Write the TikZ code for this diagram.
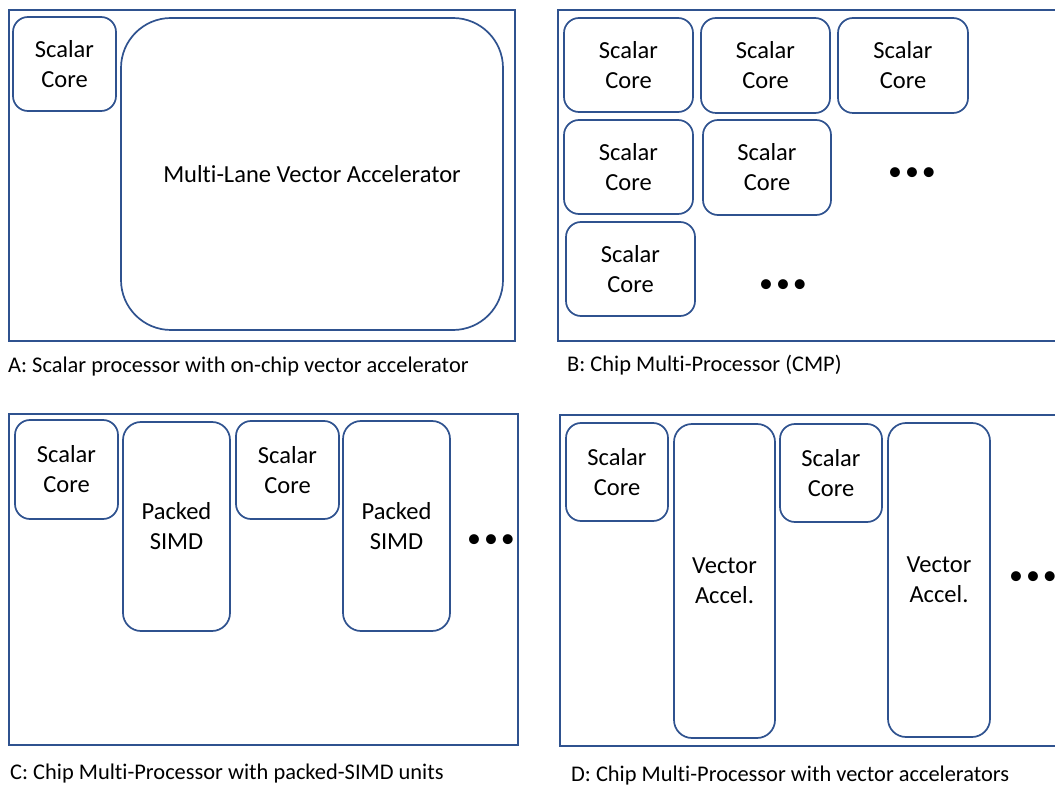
\documentclass[tikz,border=0pt]{standalone}
\usepackage{fontspec}
\setmainfont[Ligatures=NoCommon]{Carlito}
\definecolor{edgeblue}{HTML}{2F528F}
\tikzset{
  chip/.style={draw=edgeblue, line width=1.7pt, rectangle, inner sep=0pt},
  unit/.style={draw=edgeblue, line width=1.7pt, rectangle, rounded corners=15pt,
    inner sep=0pt, align=center, font=\fontsize{24.5}{30}\selectfont},
  bigunit/.style={unit, rounded corners=50pt},
  tallunit/.style={unit, rounded corners=18pt},
  caption/.style={anchor=west, inner sep=0pt, font=\fontsize{22.4}{26}\selectfont},
  more/.style={inner sep=0pt, font=\fontsize{28}{30}\selectfont}
}
\newcommand{\moredots}{\textbullet\kern3pt\textbullet\kern3pt\textbullet}
\begin{document}
\begin{tikzpicture}[x=1pt, y=-1pt]
  \useasboundingbox (0,0) rectangle (1055,786);
  \clip (0,0) rectangle (1055,786);
  \fill[white] (0,0) rectangle (1055,786);

  % A: scalar core with an on-chip vector accelerator
  \node[chip, minimum width=506pt, minimum height=331pt] (fa) at (262,175.5) {};
  \node[unit, minimum width=103pt, minimum height=94pt] (a1) at (64.5,64) {Scalar\\Core};
  \node[bigunit, minimum width=382pt, minimum height=312pt] (a2) at (312,174) {Multi-Lane Vector Accelerator};
  \node[caption] (ca) at (8,367) {A: Scalar processor with on-chip vector accelerator};

  % B: chip multi-processor
  \node[chip, minimum width=522pt, minimum height=331pt] (fb) at (819,175.5) {};
  \node[unit, minimum width=129pt, minimum height=94pt] (b1) at (628.5,65) {Scalar\\Core};
  \node[unit, minimum width=129pt, minimum height=95pt] (b2) at (765.5,65.5) {Scalar\\Core};
  \node[unit, minimum width=130pt, minimum height=95pt] (b3) at (903,65.5) {Scalar\\Core};
  \node[unit, minimum width=129pt, minimum height=94pt] (b4) at (628.5,167) {Scalar\\Core};
  \node[unit, minimum width=128pt, minimum height=95pt] (b5) at (767,167.5) {Scalar\\Core};
  \node[unit, minimum width=129pt, minimum height=94pt] (b6) at (630.5,269) {Scalar\\Core};
  \node[more] (bd1) at (912,174) {\moredots};
  \node[more] (bd2) at (783,286) {\moredots};
  \node[caption] (cb) at (567,365) {B: Chip Multi-Processor (CMP)};

  % C: chip multi-processor with packed-SIMD units
  \node[chip, minimum width=509pt, minimum height=331pt] (fc) at (263.5,579.5) {};
  \node[unit, minimum width=103pt, minimum height=99pt] (c1) at (66.5,469.5) {Scalar\\Core};
  \node[tallunit, minimum width=107pt, minimum height=209pt] (c2) at (176.5,526.5) {Packed\\SIMD};
  \node[unit, minimum width=103pt, minimum height=98pt] (c3) at (287.5,470) {Scalar\\Core};
  \node[tallunit, minimum width=107pt, minimum height=210pt] (c4) at (396.5,526) {Packed\\SIMD};
  \node[more] (cd) at (491,541) {\moredots};
  \node[caption] (cc) at (10,774) {C: Chip Multi-Processor with packed-SIMD units};

  % D: chip multi-processor with vector accelerators
  \node[chip, minimum width=520pt, minimum height=331pt] (fd) at (820,580.5) {};
  \node[unit, minimum width=102pt, minimum height=98pt] (d1) at (617,472) {Scalar\\Core};
  \node[tallunit, minimum width=101pt, minimum height=314pt] (d2) at (724.5,581) {Vector\\Accel.};
  \node[unit, minimum width=102pt, minimum height=98pt] (d3) at (831,473) {Scalar\\Core};
  \node[tallunit, minimum width=102pt, minimum height=314pt] (d4) at (939,580) {Vector\\Accel.};
  \node[more] (dd) at (1033,578) {\moredots};
  \node[caption] (cdd) at (571,776) {D: Chip Multi-Processor with vector accelerators};
\end{tikzpicture}
\end{document}
